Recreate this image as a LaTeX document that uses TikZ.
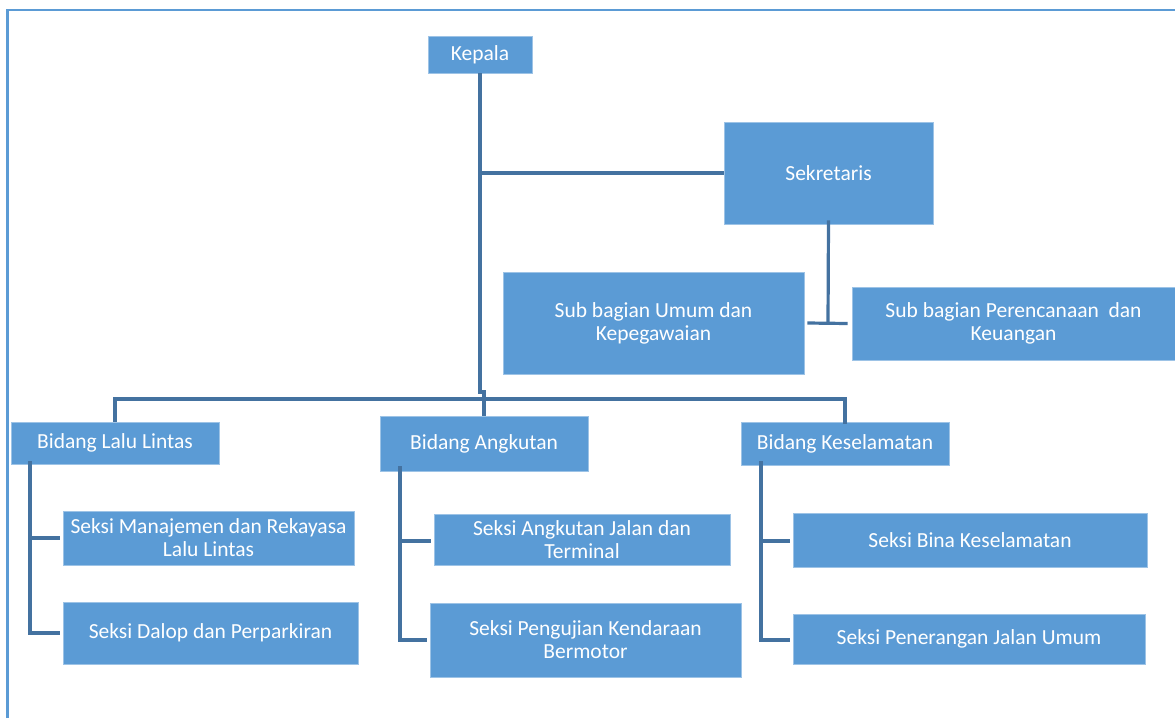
\documentclass[tikz,border=0pt]{standalone}
\usepackage{fontspec}
\setmainfont{Carlito}
\usepackage{xcolor}
\usepackage{tikz}
\usetikzlibrary{positioning}
\definecolor{boxblue}{RGB}{91,155,213}
\definecolor{lineblue}{RGB}{68,114,160}
\definecolor{frameblue}{RGB}{91,155,213}
\tikzset{
    orgbox/.style={rectangle, fill=boxblue, draw=boxblue!60!white, line width=0.8pt, text=white, align=center, inner sep=0pt, font=\fontsize{21.5}{23}\selectfont},
    link/.style={draw=lineblue, line width=3.2pt}
}

\begin{document}
\begin{tikzpicture}[x=1pt, y=-1pt]
    \useasboundingbox (0,0) rectangle (1175,718);
    % Frame
    \draw[frameblue, line width=2.6pt] (7.5,718) -- (7.5,10) -- (1175,10);

    % Top level
    \node[orgbox, minimum width=104pt, minimum height=37pt] (kepala) at (480,54.5) {Kepala};
    \node[orgbox, minimum width=209pt, minimum height=102pt] (sekretaris) at (828.5,173) {Sekretaris};
    \node[orgbox, minimum width=301pt, minimum height=102pt] (subumum) at (653.5,323) {Sub bagian Umum dan\\Kepegawaian};
    \node[orgbox, minimum width=323pt, minimum height=73pt] (subrencana) at (1013.5,323.5) {Sub bagian Perencanaan \ dan\\Keuangan};

    % Bidang
    \node[orgbox, minimum width=208pt, minimum height=42pt] (bidlalin) at (115,443) {Bidang Lalu Lintas};
    \node[orgbox, minimum width=208pt, minimum height=55pt] (bidangkut) at (484,443.5) {Bidang Angkutan};
    \node[orgbox, minimum width=208pt, minimum height=43pt] (bidselamat) at (845,443.5) {Bidang Keselamatan};

    % Seksi
    \node[orgbox, minimum width=291pt, minimum height=54pt] (seksimrll) at (208.5,538) {Seksi Manajemen dan Rekayasa\\Lalu Lintas};
    \node[orgbox, minimum width=295pt, minimum height=62pt] (seksidalop) at (210.5,633) {Seksi Dalop dan Perparkiran};
    \node[orgbox, minimum width=296pt, minimum height=51pt] (seksiajt) at (582,539.5) {Seksi Angkutan Jalan dan\\Terminal};
    \node[orgbox, minimum width=311pt, minimum height=74pt] (seksipkb) at (585.5,640) {Seksi Pengujian Kendaraan\\Bermotor};
    \node[orgbox, minimum width=354pt, minimum height=54pt] (seksibina) at (970,540) {Seksi Bina Keselamatan};
    \node[orgbox, minimum width=352pt, minimum height=50pt] (seksipju) at (969,639) {Seksi Penerangan Jalan Umum};

    % Connectors
    \coordinate (bus) at (480,399);
    \draw[link] (kepala.south) -- (480,392) -- (484,392) -- (bidangkut.north);
    \draw[link] (480,173) -- (sekretaris.west);
    \draw[link] ([yshift=4pt]sekretaris.south) -- (828,323);
    \draw[link] ([xshift=3pt]subumum.east) -- ([xshift=-4pt]subrencana.west);
    \draw[link] (bidlalin.north) |- (bus) -| ([yshift=-2pt]bidselamat.north);

    \draw[link] ([yshift=3pt]bidlalin.south -| 30,0) |- ([xshift=-3pt]seksidalop.west);
    \draw[link] (30,538) -- ([xshift=-3pt]seksimrll.west);
    \draw[link] ([yshift=5pt]bidangkut.south -| 400,0) |- ([xshift=-3pt]seksipkb.west |- 0,640);
    \draw[link] (400,541) -- ([xshift=-3pt]seksiajt.west |- 0,541);
    \draw[link] ([yshift=4pt]bidselamat.south -| 761,0) |- ([xshift=-3pt]seksipju.west |- 0,640);
    \draw[link] (761,541) -- ([xshift=-3pt]seksibina.west |- 0,541);
\end{tikzpicture}
\end{document}
